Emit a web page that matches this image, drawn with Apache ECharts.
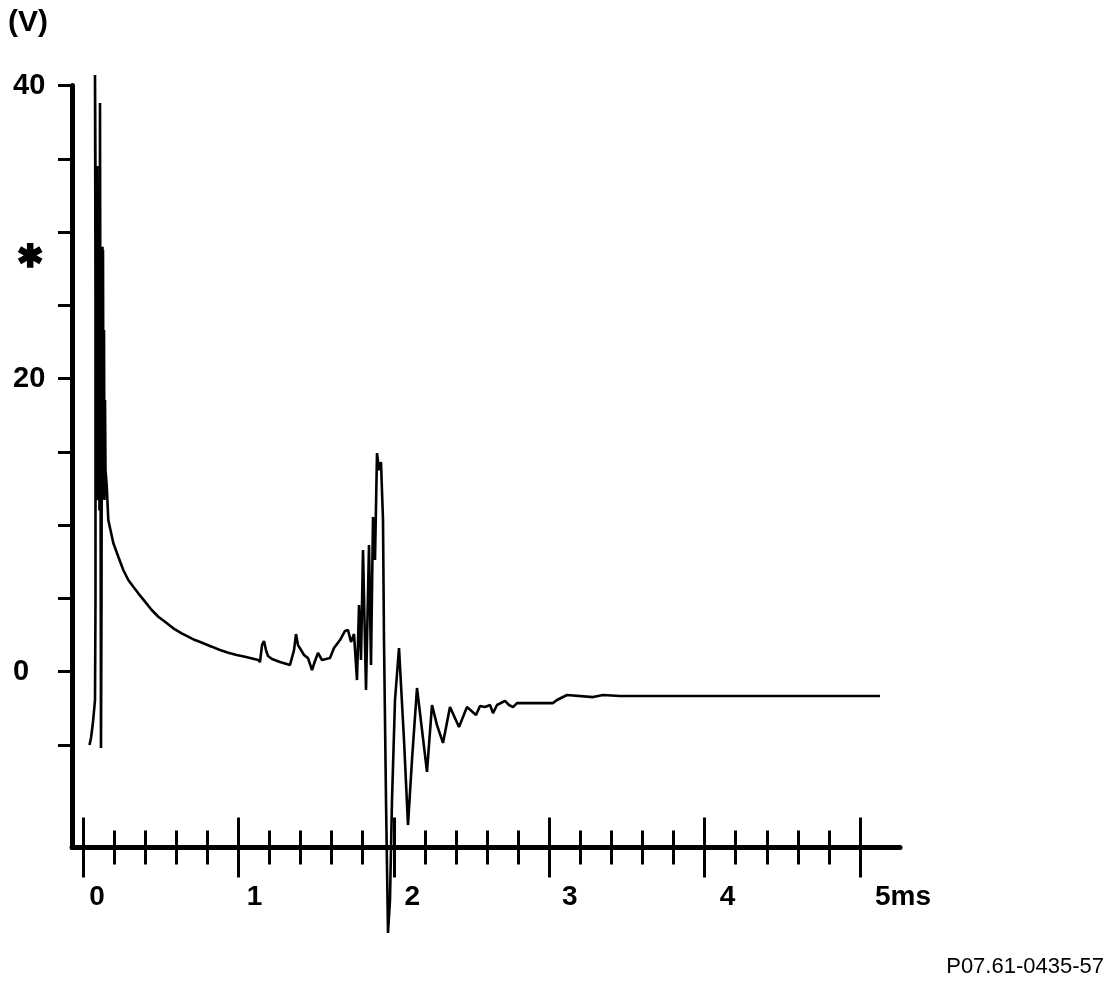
<!DOCTYPE html>
<html>
<head>
<meta charset="utf-8">
<script src="https://cdn.jsdelivr.net/npm/echarts@6/dist/echarts.min.js"></script>
<style>
html,body{margin:0;padding:0;background:#fff;}
#chart{width:1120px;height:984px;}
</style>
</head>
<body>
<div id="chart"></div>
<script>
// Time (ms) and voltage (V)
const timeMs = [0.0418,0.0515,0.0644,0.0772,0.0804,0.0804,0.0772,0.0821,0.0837,0.0853,0.0869,0.0885,0.0901,0.0917,0.0933,0.0949,0.0965,0.0981,0.0997,0.1013,0.1030,0.1046,0.1062,0.1094,0.1126,0.1158,0.1191,0.1223,0.1239,0.1255,0.1271,0.1287,0.1319,0.1351,0.1384,0.1416,0.1448,
0.1525,0.1628,0.1950,0.2272,0.2593,0.2915,0.3237,0.3559,0.3990,0.4421,0.4846,0.5277,0.5811,0.6351,0.7207,0.7741,0.8282,0.8816,0.9350,0.9891,1.0425,1.1281,
1.1390,1.1519,1.1647,1.1776,1.1905,1.2162,1.2677,1.3320,1.3578,1.3707,1.3835,1.4028,1.4221,1.4479,1.4736,1.4929,1.5122,1.5380,1.5894,1.6152,1.6538,1.6860,1.7053,1.7246,1.7439,1.7632,1.7761,1.7889,1.8018,1.8211,1.8404,1.8533,1.8662,1.8790,1.8919,1.9048,1.9176,1.9305,1.9369,1.9498,1.9627,1.9755,1.9884,2.0077,2.0335,2.0656,2.0914,2.1171,2.1493,2.1815,2.2136,2.2458,2.2780,2.3166,2.3616,2.4196,2.4710,2.5290,2.5547,2.5869,2.6191,2.6384,2.6641,2.7156,2.7413,2.7671,2.7928,2.8958,3.0245,3.0502,3.1146,3.2819,3.3462,3.4556,3.9704,4.6139,5.1287];
const volts = [-5.00,-4.52,-3.43,-1.93,4.89,25.36,40.72,30.5,14.0,33.0,12.5,31.0,15.0,34.5,11.7,29.5,13.5,32.0,12.0,27.5,14.5,30.5,11.0,38.81,17.17,-5.21,4.89,26.72,12.5,29.0,11.8,28.77,13.08,23.31,11.72,18.54,13.76,
12.74,10.35,8.78,7.85,6.94,6.26,5.80,5.35,4.78,4.21,3.75,3.41,2.96,2.62,2.16,1.94,1.71,1.48,1.30,1.14,1.02,0.80,
0.66,1.82,2.10,1.48,1.07,0.87,0.66,0.46,1.48,2.57,1.82,1.48,1.14,0.93,0.12,0.73,1.28,0.80,0.93,1.62,2.16,2.78,2.85,2.03,2.57,-0.57,4.55,0.80,8.30,-1.25,8.64,0.46,10.56,7.62,14.92,13.76,14.31,10.35,2.16,-8.76,-17.83,-15.57,-8.76,-1.93,1.62,-4.66,-10.46,-6.02,-1.11,-3.97,-6.83,-2.27,-3.64,-4.86,-2.41,-3.77,-2.41,-2.95,-2.34,-2.41,-2.27,-2.82,-2.27,-1.99,-2.27,-2.41,-2.14,-2.14,-2.14,-1.93,-1.59,-1.73,-1.59,-1.66,-1.66,-1.66,-1.66];

// Axis ticks and labels
const yTickValues = [-5,0,5,10,15,20,25,30,35,40];
const yLabelValues = [0,20,40];
const xMajorTicks = [0,1,2,3,4,5];
const xMinorTicks = [0.2,0.4,0.6,0.8,1.2,1.4,1.6,1.8,2.2,2.4,2.6,2.8,3.2,3.4,3.6,3.8,4.2,4.4,4.6,4.8];
const xLabelValues = [0,1,2,3,4,5];
const xUnit = 'ms';
const yUnit = '(V)';
const markerText = '✱';
const codeText = 'P07.61-0435-57';

const X_MIN = -0.0708, X_MAX = 5.2574;
const chart = echarts.init(document.getElementById('chart'), null, {renderer:'canvas'});
const FONT = 'Liberation Sans, Arial, sans-serif';

const tickAxis = (vals, offset, len) => ({
  type:'value', gridIndex:0, position:'bottom', min:X_MIN, max:X_MAX, offset:offset,
  axisLine:{show:false, onZero:false}, splitLine:{show:false}, axisLabel:{show:false},
  axisTick:{show:true, inside:true, length:len, customValues:vals, lineStyle:{color:'#000', width:3}}
});

chart.setOption({
  animation:false,
  backgroundColor:'#fff',
  grid:[{left:72, right:220, top:85.5, bottom:136.4, containLabel:false}],
  xAxis:[
    {type:'value', gridIndex:0, position:'bottom', min:X_MIN, max:X_MAX,
     axisLine:{show:true, onZero:false, lineStyle:{color:'#000', width:5}},
     axisTick:{show:false}, axisLabel:{show:false}, splitLine:{show:false}},
    tickAxis(xMinorTicks, 17, 34),
    tickAxis(xMajorTicks, 30, 60),
    {type:'value', gridIndex:0, position:'bottom', min:-0.1586, max:5.095, offset:0,
     axisLine:{show:false, onZero:false}, axisTick:{show:false}, splitLine:{show:false},
     axisLabel:{show:true, customValues:xLabelValues, margin:36, color:'#000',
       fontFamily:FONT, fontWeight:'bold', fontSize:28,
       formatter:(v)=> v===5 ? '{u|' + v + xUnit + '}' : String(v),
       rich:{u:{fontFamily:FONT, fontWeight:'bold', fontSize:28, color:'#000', padding:[0,0,0,36]}}}}
  ],
  yAxis:[
    {type:'value', gridIndex:0, min:-12, max:40,
     axisLine:{show:true, onZero:false, lineStyle:{color:'#000', width:5}},
     axisTick:{show:true, inside:false, length:14, customValues:yTickValues, lineStyle:{color:'#000', width:3}},
     axisLabel:{show:true, customValues:yLabelValues, align:'left', margin:59, color:'#000',
       fontFamily:FONT, fontWeight:'bold', fontSize:29},
     splitLine:{show:false}}
  ],
  graphic:[
    {type:'text', left:8, top:8, style:{text:yUnit, fontFamily:FONT, fontWeight:'bold', fontSize:30, fill:'#000'}},
    {type:'text', left:16, top:242, style:{text:markerText, fontFamily:'DejaVu Sans', fontWeight:'bold', fontSize:32, fill:'#000', stroke:'#000', lineWidth:1.5}},
    {type:'text', right:16, top:956, style:{text:codeText, fontFamily:FONT, fontSize:22, fill:'#000'}}
  ],
  series:[{
    type:'line', xAxisIndex:0, yAxisIndex:0, showSymbol:false, clip:false,
    lineStyle:{color:'#000', width:2.6}, smooth:false,
    data: timeMs.map((t,i)=>[t, volts[i]])
  }]
});
</script>
</body>
</html>
